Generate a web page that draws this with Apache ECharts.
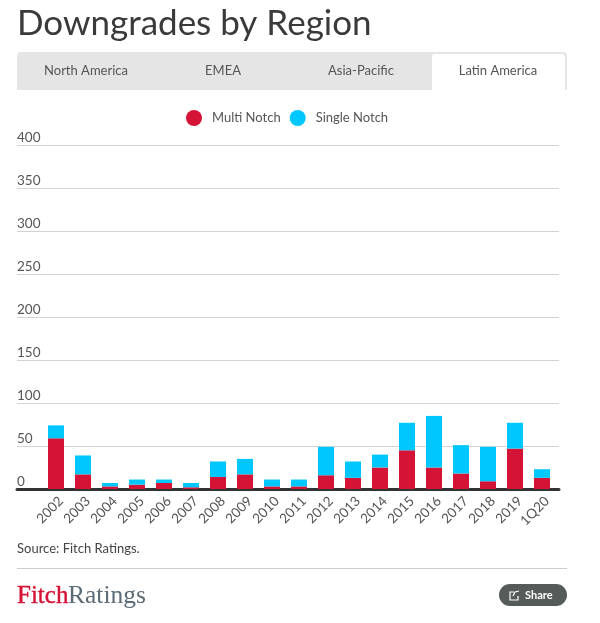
<!DOCTYPE html>
<html>
<head>
<meta charset="utf-8">
<script src="https://cdn.jsdelivr.net/npm/echarts@6/dist/echarts.min.js"></script>
<style>
  html, body { margin: 0; padding: 0; background: #fff; }
</style>
</head>
<body>
<div id="main" style="width:600px;height:623px;"></div>
<script type="text/javascript">
var categories = ['2002','2003','2004','2005','2006','2007','2008','2009','2010','2011','2012','2013','2014','2015','2016','2017','2018','2019','1Q20'];
var multiNotch = [59,17,3,5,7,2,14,17,3,3,16,13,25,45,25,18,9,47,13];
var singleNotch = [15,22,4,6,4,5,18,18,8,8,33,19,15,32,60,33,40,30,10];
var yTicks = [0,50,100,150,200,250,300,350,400];
var tabs = ['North America','EMEA','Asia-Pacific','Latin America'];
var tabCentres = [86,223,361,498];

var font = 'Lato';
var textColor = '#555';
var red = '#d51336';
var cyan = '#00c8ff';

var myChart = echarts.init(document.getElementById('main'));

// tabs strip
var graphics = [
  { type:'rect', shape:{x:17,y:52,width:550,height:38,r:[4,4,0,0]}, style:{fill:'#e5e5e5'} },
  { type:'rect', shape:{x:432,y:54,width:133,height:36,r:[3,3,0,0]}, style:{fill:'#fff'} }
];
tabs.forEach(function(t, i){
  graphics.push({ type:'text', x:tabCentres[i], y:71, style:{
    text:t, font:'13px '+font, fill:textColor, align:'center', verticalAlign:'middle'
  }});
});
// footer
graphics.push(
  { type:'text', x:17, y:549, style:{text:'Source: Fitch Ratings.', font:'13px '+font, fill:'#444', verticalAlign:'middle'} },
  { type:'rect', shape:{x:17,y:568,width:550,height:1}, style:{fill:'#ccc'} },
  { type:'text', x:17, y:596, style:{text:'Fitch', font:'25px "Liberation Serif"', fill:red, stroke:red, lineWidth:0.4, verticalAlign:'middle'} },
  { type:'text', x:68, y:596, style:{text:'Ratings', font:'25.5px "Liberation Serif"', fill:'#5c6b75', verticalAlign:'middle'} },
  { type:'rect', shape:{x:499,y:584,width:68,height:22,r:11}, style:{fill:'#555b58'} },
  { type:'polyline', shape:{points:[[514,592],[510,592],[510,600],[518,600],[518,596]]}, style:{stroke:'#fff',lineWidth:1.2,fill:null} },
  { type:'polyline', shape:{points:[[513,596],[515,592],[519,591]]}, style:{stroke:'#fff',lineWidth:1.2,fill:null} },
  { type:'text', x:525, y:595, style:{text:'Share', font:'bold 11px '+font, fill:'#fff', verticalAlign:'middle'} }
);

var option = {
  animation: false,
  title: {
    text: 'Downgrades by Region',
    left: 17, top: 6,
    padding: 0,
    textStyle: { fontFamily: font, fontSize: 35, fontWeight: 400, color: '#3a3a3a' }
  },
  legend: {
    left: 186, top: 110,
    padding: 0,
    itemWidth: 16, itemHeight: 16, itemGap: 9,
    icon: 'circle',
    textStyle: { fontFamily: font, fontSize: 13, color: textColor, padding: [0,0,0,5] },
    data: ['Multi Notch','Single Notch']
  },
  // grid 0 carries the full-width rules, grid 1 the bars
  grid: [
    { left: 17, width: 542, top: 145, height: 344 },
    { left: 42.5, width: 513, top: 145, height: 344 }
  ],
  xAxis: [
    { gridIndex:0, type:'value', min:0, max:1, splitLine:{show:false}, axisTick:{show:false}, axisLabel:{show:false},
      axisLine:{show:true, onZero:false, lineStyle:{color:'#333',width:3}} },
    { gridIndex:1, type:'category', data:categories, axisLine:{show:false}, axisTick:{show:false},
      axisLabel:{interval:0, rotate:45, margin:5, verticalAlign:'top', fontFamily:font, fontSize:13.5, color:textColor} }
  ],
  yAxis: [
    { gridIndex:0, type:'value', min:0, max:400, interval:50, axisLine:{show:false}, axisTick:{show:false},
      splitLine:{lineStyle:{color:'#d3d3d3',width:1}},
      axisLabel:{inside:true, margin:0, verticalAlign:'bottom', lineHeight:14, fontFamily:font, fontSize:13.5, color:textColor,
        customValues: yTicks} },
    { gridIndex:1, type:'value', min:0, max:400, show:false }
  ],
  series: [
    { name:'Multi Notch', type:'bar', stack:'total', xAxisIndex:1, yAxisIndex:1, barWidth:16, data:multiNotch, itemStyle:{color:red} },
    { name:'Single Notch', type:'bar', stack:'total', xAxisIndex:1, yAxisIndex:1, barWidth:16, data:singleNotch, itemStyle:{color:cyan} }
  ],
  graphic: graphics
};

myChart.setOption(option);
</script>
</body>
</html>
